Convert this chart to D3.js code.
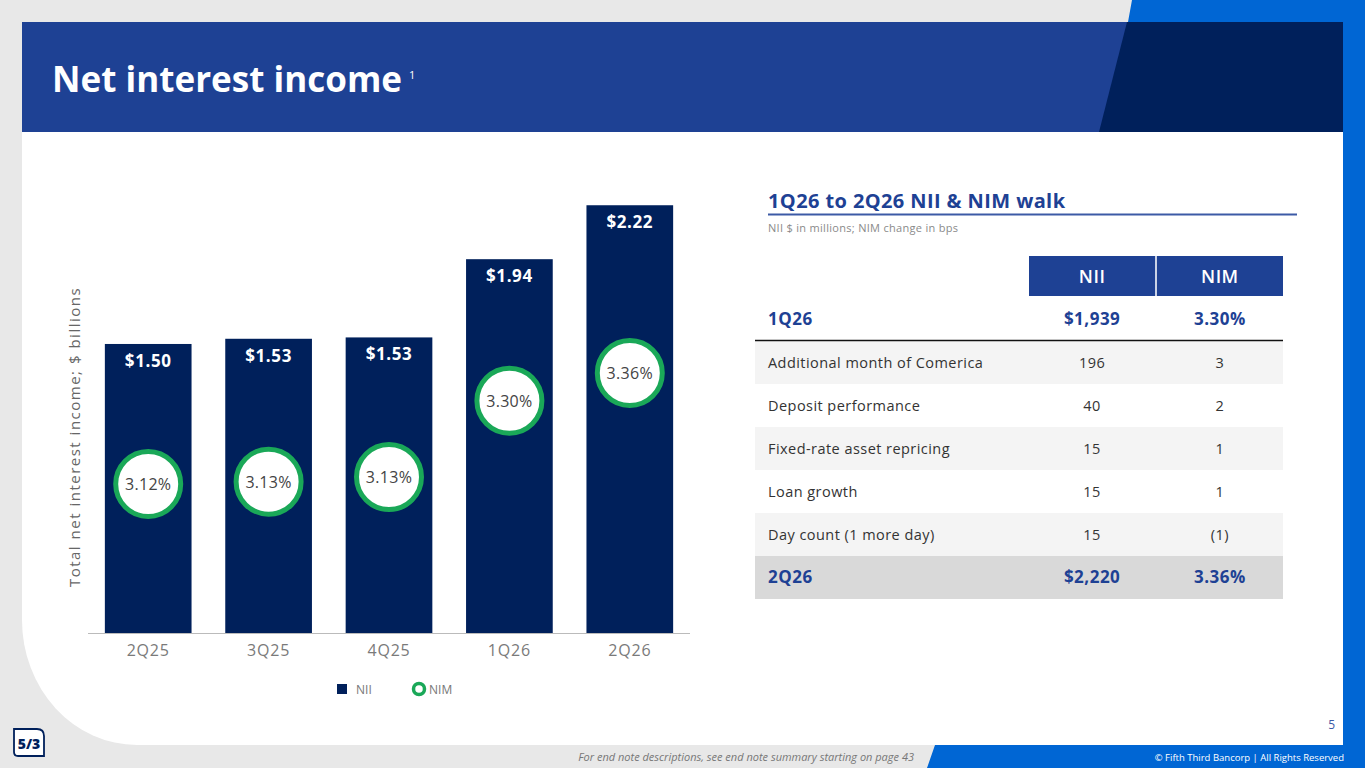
<!DOCTYPE html>
<html><head><meta charset="utf-8">
<script src="https://cdn.jsdelivr.net/npm/d3@7"></script>
<style>body{margin:0;background:#e8e8e8;overflow:hidden}svg{display:block}</style>
</head><body>
<svg id="c" width="1365" height="768"></svg>
<script>
// ---- data ----
const quarters = ["2Q25","3Q25","4Q25","1Q26","2Q26"];
const nii = [1.50, 1.527, 1.534, 1.94, 2.22];
const niiLabels = ["$1.50","$1.53","$1.53","$1.94","$2.22"];
const nim = [3.12, 3.13, 3.13, 3.30, 3.36];
const nimPos = [3.12, 3.125, 3.135, 3.30, 3.36];
const walkItems = ["Additional month of Comerica","Deposit performance","Fixed-rate asset repricing","Loan growth","Day count (1 more day)"];
const walkNII = ["196","40","15","15","15"];
const walkNIM = ["3","2","1","1","(1)"];
const startRow = ["1Q26","$1,939","3.30%"];
const endRow = ["2Q26","$2,220","3.36%"];
const tableCols = ["NII","NIM"];

const F = "'Open Sans', 'Noto Sans', sans-serif";
const svg = d3.select("#c");
const NAVY = "#00205b", BLUE = "#1e4194", BRIGHT = "#0066d4", GREEN = "#1aa858";

// background shapes
svg.append("rect").attr("width",1365).attr("height",768).attr("fill","#e8e8e8");
svg.append("path").attr("d","M1132,0 H1365 V768 H927 L935,745 H1343 V22 H1128 Z").attr("fill",BRIGHT);
svg.append("path").attr("d","M22,22 H1343 V745 H137 A115 125 0 0 1 22 620 Z").attr("fill","#fff");
svg.append("rect").attr("x",22).attr("y",22).attr("width",1321).attr("height",110).attr("fill",BLUE);
svg.append("path").attr("d","M1127,22 H1343 V132 H1099 Z").attr("fill",NAVY);

// title
svg.append("text").attr("x",52).attr("y",92).attr("fill","#fff")
  .attr("font-family",F).attr("font-weight",700).attr("font-size",35)
  .attr("textLength",350).attr("lengthAdjust","spacingAndGlyphs").text("Net interest income");
svg.append("text").attr("x",409).attr("y",79).attr("fill","#fff").attr("font-family",F)
  .attr("font-size",11).text("1");

// ---- chart ----
const x = d3.scaleBand().domain(quarters).range([88,690]).paddingInner(0.28).paddingOuter(0.14);
const y = d3.scaleLinear().domain([0,2.351]).range([633,180]);
const yNim = d3.scaleLinear().domain([3.12,3.36]).range([484,373]);

svg.selectAll("rect.bar").data(quarters).join("rect").attr("class","bar")
  .attr("x",d=>x(d)).attr("width",x.bandwidth())
  .attr("y",(d,i)=>y(nii[i])).attr("height",(d,i)=>y(0)-y(nii[i])).attr("fill",NAVY);

svg.selectAll("text.val").data(quarters).join("text").attr("class","val")
  .attr("x",d=>x(d)+x.bandwidth()/2).attr("y",(d,i)=>y(nii[i])+23)
  .attr("text-anchor","middle").attr("fill","#fff").attr("font-family",F)
  .attr("font-weight",700).attr("font-size",17).attr("letter-spacing",0.6).text((d,i)=>niiLabels[i]);

svg.selectAll("circle.nim").data(quarters).join("circle").attr("class","nim")
  .attr("cx",d=>x(d)+x.bandwidth()/2).attr("cy",(d,i)=>yNim(nimPos[i]))
  .attr("r",32.5).attr("fill","#fff").attr("stroke",GREEN).attr("stroke-width",5);
svg.selectAll("text.nimt").data(quarters).join("text").attr("class","nimt")
  .attr("x",d=>x(d)+x.bandwidth()/2).attr("y",(d,i)=>yNim(nimPos[i])+6)
  .attr("text-anchor","middle").attr("fill","#444").attr("font-family",F)
  .attr("font-weight",500).attr("font-size",16).attr("letter-spacing",0.3).text((d,i)=>nim[i].toFixed(2)+"%");

// x axis
const xa = svg.append("g").attr("transform","translate(0,633)").call(d3.axisBottom(x).tickSize(0).tickPadding(12).tickSizeOuter(0));
xa.select(".domain").attr("stroke","#bbb").attr("d","M88,0.5H690");
xa.selectAll("text").attr("font-family",F).attr("font-size",16).attr("letter-spacing",0.8).attr("fill","#7a7a7a");

// y title
svg.append("text").attr("transform","translate(80,437) rotate(-90)").attr("text-anchor","middle")
  .attr("font-family",F).attr("font-size",15).attr("fill","#666").attr("letter-spacing",1.5)
  .text("Total net interest income; $ billions");

// legend
svg.append("rect").attr("x",337).attr("y",684).attr("width",10).attr("height",10).attr("fill",NAVY);
svg.append("text").attr("x",356).attr("y",694).attr("font-family",F).attr("font-size",12).attr("fill","#777").text("NII");
svg.append("circle").attr("cx",419).attr("cy",689).attr("r",5.5).attr("fill","#fff").attr("stroke",GREEN).attr("stroke-width",3.5);
svg.append("text").attr("x",429).attr("y",694).attr("font-family",F).attr("font-size",12).attr("fill","#777").text("NIM");

// ---- table ----
svg.append("text").attr("x",768).attr("y",208).attr("font-family",F).attr("font-weight",700)
  .attr("font-size",20).attr("letter-spacing",0.4).attr("fill",BLUE).text("1Q26 to 2Q26 NII & NIM walk");
svg.append("line").attr("x1",768).attr("x2",1297).attr("y1",214.5).attr("y2",214.5).attr("stroke","#3c5aa6").attr("stroke-width",2);
svg.append("text").attr("x",768).attr("y",232).attr("font-family",F).attr("font-size",11).attr("letter-spacing",0.3).attr("fill","#8a8a8a")
  .text("NII $ in millions; NIM change in bps");

const colX = d3.scaleBand().domain(tableCols).range([1029,1283]).paddingInner(0.012);
svg.selectAll("rect.hd").data(tableCols).join("rect").attr("class","hd")
  .attr("x",d=>colX(d)).attr("width",colX.bandwidth()).attr("y",256).attr("height",40).attr("fill",BLUE);
svg.selectAll("text.hd").data(tableCols).join("text").attr("class","hd")
  .attr("x",d=>colX(d)+colX.bandwidth()/2).attr("y",283).attr("text-anchor","middle")
  .attr("font-family",F).attr("font-weight",600).attr("font-size",18).attr("letter-spacing",0.5).attr("fill","#fff").text(d=>d);

const cx = d => colX(d)+colX.bandwidth()/2;
function boldRow(vals, yy){
  svg.append("text").attr("x",768).attr("y",yy).attr("font-family",F).attr("font-weight",700).attr("font-size",17).attr("letter-spacing",0.5).attr("fill",BLUE).text(vals[0]);
  svg.append("text").attr("x",cx("NII")).attr("y",yy).attr("text-anchor","middle").attr("font-family",F).attr("font-weight",700).attr("font-size",17).attr("letter-spacing",0.5).attr("fill",BLUE).text(vals[1]);
  svg.append("text").attr("x",cx("NIM")).attr("y",yy).attr("text-anchor","middle").attr("font-family",F).attr("font-weight",700).attr("font-size",17).attr("letter-spacing",0.5).attr("fill",BLUE).text(vals[2]);
}
boldRow(startRow, 325);

const rowY = d3.scaleBand().domain(d3.range(walkItems.length)).range([341,556]);
const rows = svg.selectAll("g.row").data(walkItems).join("g").attr("class","row")
  .attr("transform",(d,i)=>`translate(0,${rowY(i)})`);
rows.append("rect").attr("x",755).attr("width",528).attr("height",rowY.bandwidth())
  .attr("fill",(d,i)=>i%2===0?"#f4f4f4":"#fff");
const cell = sel => sel.attr("y",rowY.bandwidth()/2+5).attr("font-family",F).attr("font-size",14.5).attr("letter-spacing",0.45).attr("fill","#333");
rows.append("text").attr("x",768).call(cell).text(d=>d);
rows.append("text").attr("x",cx("NII")).attr("text-anchor","middle").call(cell).text((d,i)=>walkNII[i]);
rows.append("text").attr("x",cx("NIM")).attr("text-anchor","middle").call(cell).text((d,i)=>walkNIM[i]);
svg.append("line").attr("x1",755).attr("x2",1283).attr("y1",340.5).attr("y2",340.5).attr("stroke","#111").attr("stroke-width",1.5);

// end row
svg.append("rect").attr("x",755).attr("y",556).attr("width",528).attr("height",43).attr("fill","#d9d9d9");
boldRow(endRow, 583);

// ---- footer ----
svg.append("text").attr("x",1335).attr("y",729).attr("text-anchor","end").attr("font-family",F).attr("font-size",12).attr("fill","#3c5aa6").text("5");
svg.append("text").attr("x",914).attr("y",761).attr("text-anchor","end").attr("font-family",F).attr("font-style","italic").attr("font-size",11).attr("fill","#777")
  .text("For end note descriptions, see end note summary starting on page 43");
svg.append("text").attr("x",1344).attr("y",761).attr("text-anchor","end").attr("font-family",F).attr("font-size",9.5).attr("fill","#fff")
  .text("© Fifth Third Bancorp | All Rights Reserved");

// logo
svg.append("path").attr("d","M14,729 H37 Q44,729 44,736 V756 H18 Q14,756 14,752 Z").attr("fill","#fff").attr("stroke",NAVY).attr("stroke-width",1.8);
svg.append("text").attr("x",29).attr("y",749).attr("text-anchor","middle").attr("font-family",F).attr("font-weight",800).attr("font-size",14).attr("fill",NAVY).text("5/3");
</script>
</body></html>
